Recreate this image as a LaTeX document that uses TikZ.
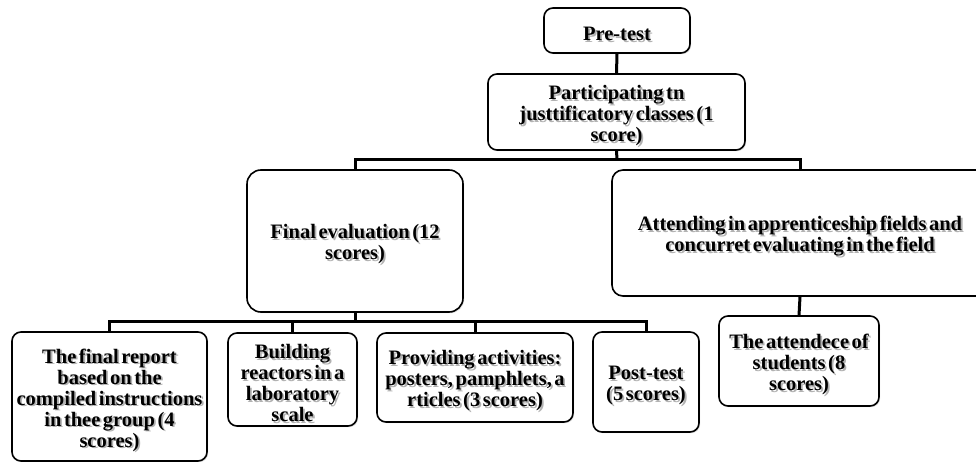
\documentclass[tikz,border=0pt]{standalone}
\usepackage{fontspec}
\setmainfont{Liberation Serif}[WordSpace=0.5]
\usetikzlibrary{shadows}
\tikzset{
  boxshape/.style={draw=black, line width=1.6pt, fill=white, rounded corners=9pt,
    inner sep=0pt, drop shadow={opacity=0.25, shadow xshift=1.2pt, shadow yshift=-1.2pt}},
  txt/.style={align=center, inner sep=0pt, font=\fontsize{20.5}{21}\selectfont\bfseries},
  conn/.style={draw=black, line width=3pt},
}
\newcommand\mybox[7][]{%
  \node[boxshape, minimum width=#5pt, minimum height=#6pt, #1] (#2) at (#3,#4) {};
  \node[txt, text=black!30] at ([shift={(1.8,5.3)}]#2.center) {#7};
  \node[txt] at ([shift={(0,3.5)}]#2.center) {#7};
}
\begin{document}
\begin{tikzpicture}[x=1pt, y=-1pt]
\useasboundingbox (0,0) rectangle (976,462);
\clip (0,0) rectangle (976,462);

\mybox{pre}{617}{30.5}{146}{45}{Pre-test}
\mybox{part}{616.5}{112}{257}{76}{Participating tn\\justtificatory classes (1\\score)}
\mybox[rounded corners=14pt]{final}{355}{241}{216}{142}{Final evaluation (12\\scores)}
\mybox[rounded corners=11pt]{attend}{800}{233}{376}{126}{Attending in apprenticeship fields and\\concurret evaluating in the field}
\mybox{rep}{109.5}{396.5}{195}{129}{The final report\\based on the\\compiled instructions\\in thee group (4\\scores)}
\mybox{build}{292.5}{379.5}{129}{93}{Building\\reactors in a\\laboratory\\scale}
\mybox{prov}{475}{377.5}{196}{89}{Providing activities:\\posters, pamphlets, a\\rticles (3 scores)}
\mybox{post}{646}{382}{106}{100}{Post-test\\(5 scores)}
\mybox{att}{799}{361}{160}{90}{The attendece of\\students (8\\scores)}

\coordinate (j1) at (617,159.5);
\coordinate (j2) at (355,321);

\draw[conn] (pre.south) -- (part.north);
\draw[conn] (part.south) -- (j1);
\draw[conn] (final.north) -- (final.north |- j1) -- (attend.north |- j1) -- (attend.north);
\draw[conn] (final.south) -- (j2);
\draw[conn] (rep.north) -- (rep.north |- j2) -- (post.north |- j2) -- (post.north);
\draw[conn] (build.north) -- (build.north |- j2);
\draw[conn] (prov.north) -- (prov.north |- j2);
\draw[conn] (attend.south) -- (att.north);
\end{tikzpicture}
\end{document}
